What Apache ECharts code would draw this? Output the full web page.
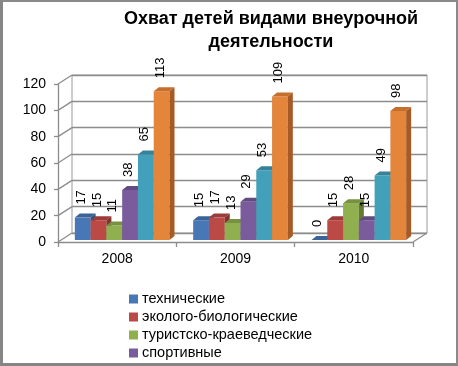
<!DOCTYPE html>
<html><head><meta charset="utf-8">
<script src="https://cdn.jsdelivr.net/npm/echarts@6/dist/echarts.min.js"></script>
<style>
html,body{margin:0;padding:0;background:#fff;}
#c{position:absolute;left:0;top:0;width:458px;height:366px;}
#frame{position:absolute;left:0;top:0;width:458px;height:366px;box-sizing:border-box;border-top:2px solid #8a8a8a;border-right:2px solid #8a8a8a;border-left:3px solid #858585;border-bottom:3px solid #858585;pointer-events:none;}
</style></head>
<body><div id="c"></div><div id="frame"></div>
<script>
const categories = ['2008', '2009', '2010'];
const yTicks = [0, 20, 40, 60, 80, 100, 120];
const seriesNames = ['технические', 'эколого-биологические', 'туристско-краеведческие', 'спортивные', 'художественно-эстетические', 'общекультурные'];
const technical = [17, 15, 0];
const ecoBio = [15, 17, 15];
const tourist = [11, 13, 28];
const sport = [38, 29, 15];
const artistic = [65, 53, 49];
const cultural = [113, 109, 98];
const legendNames = ['технические', 'эколого-биологические', 'туристско-краеведческие', 'спортивные'];

const values = [technical, ecoBio, tourist, sport, artistic, cultural];
const colors = [
  {f:'#4877b5', t:'#3a6399', s:'#30527f'},
  {f:'#bb4946', t:'#9c3b38', s:'#85322f'},
  {f:'#90b04f', t:'#76923f', s:'#627a34'},
  {f:'#7a5c9c', t:'#634a80', s:'#523d6b'},
  {f:'#42a0bb', t:'#34839a', s:'#2b6d80'},
  {f:'#e3853b', t:'#c66e2c', s:'#a65a24'}
];
const FONT = "'Liberation Sans', Arial, sans-serif";
const DX = 5, DY = -4;
const WX = 14, WY = -9;

const chart = echarts.init(document.getElementById('c'), null, {renderer:'canvas'});

function barRender(k) {
  return function (params, api) {
    const cat = api.value(0), v = api.value(1);
    const base = api.coord([cat, 0]);
    const top = api.coord([cat, v]);
    const bandW = api.size([1, 0])[0];
    const bw = bandW * 0.8 / 6;
    const x = base[0] + (k - 3) * bw;
    const yb = base[1], yt = top[1];
    const c = colors[k];
    const children = [
      {type:'rect', shape:{x:x, y:yt, width:bw, height:yb - yt}, style:{fill:c.f}},
      {type:'polygon', shape:{points:[[x, yt],[x + DX, yt + DY],[x + bw + DX, yt + DY],[x + bw, yt]]}, style:{fill:c.t}},
      {type:'polygon', shape:{points:[[x + bw, yt],[x + bw + DX, yt + DY],[x + bw + DX, yb + DY],[x + bw, yb]]}, style:{fill:c.s}},
      {type:'text', x: x + bw / 2 - 1.5, y: yt - 13, rotation: Math.PI / 2,
        style:{text:String(v), fill:'#000', fontSize:13, fontFamily:FONT, align:'left', verticalAlign:'middle'}}
    ];
    return {type:'group', children:children};
  };
}

const barSeries = values.map((arr, k) => ({
  name: seriesNames[k],
  type: 'custom',
  xAxisIndex: 2, yAxisIndex: 2,
  z: 5,
  itemStyle: {color: colors[k].f},
  renderItem: barRender(k),
  data: arr.map((v, i) => [i, v])
}));

const wallSeries = {
  type: 'custom',
  xAxisIndex: 0, yAxisIndex: 0,
  z: 1,
  silent: true,
  renderItem: function (params, api) {
    const v = api.value(0);
    const p = api.coord([0, v]);
    const bandW = api.size([1, 0])[0];
    const x0 = p[0] - bandW / 2;
    const children = [
      {type:'line', shape:{x1:x0, y1:p[1], x2:x0 + WX, y2:p[1] + WY}, style:{stroke:'#8c8c8c', lineWidth:1.3}}
    ];
    if (v === 0) {
      const q = api.coord([categories.length - 1, 0]);
      const x1 = q[0] + bandW / 2;
      children.push({type:'line', shape:{x1:x1, y1:q[1], x2:x1 + WX, y2:q[1] + WY}, style:{stroke:'#8c8c8c', lineWidth:1.3}});
    }
    return {type:'group', children:children};
  },
  data: yTicks.map(v => [v])
};

const axisBase = {min:0, max:120, interval:20};

chart.setOption({
  animation: false,
  backgroundColor: '#fff',
  title: {
    text: 'Охват детей видами внеурочной\nдеятельности',
    left: 266, top: 3, textAlign: 'center',
    textStyle: {fontSize:18, fontWeight:'bold', fontFamily:FONT, color:'#000', lineHeight:23}
  },
  legend: {
    data: legendNames,
    orient: 'vertical',
    left: 129, top: 291,
    padding: 0,
    itemWidth: 9, itemHeight: 9, itemGap: 2,
    icon: 'rect',
    textStyle: {fontSize:14.5, fontFamily:FONT, color:'#000', lineHeight:16, padding:[0,0,0,-1]}
  },
  grid: [
    {left:58, top:84, width:355, height:158},
    {left:72, top:75, width:355, height:158, show:true, borderColor:'#9a9a9a', borderWidth:1, backgroundColor:'transparent'},
    {left:63, top:82, width:355, height:158}
  ],
  xAxis: [
    {type:'category', gridIndex:0, data:categories, boundaryGap:true,
     axisLine:{show:true, lineStyle:{color:'#8c8c8c', width:1.3}},
     axisTick:{show:true, length:5, lineStyle:{color:'#8c8c8c', width:1.3}},
     axisLabel:{fontSize:14, fontFamily:FONT, color:'#000', margin:10}},
    {type:'category', gridIndex:1, data:categories, show:false},
    {type:'category', gridIndex:2, data:categories, show:false}
  ],
  yAxis: [
    Object.assign({type:'value', gridIndex:0,
     axisLine:{show:true, lineStyle:{color:'#8c8c8c', width:1.3}},
     axisTick:{show:true, length:4, lineStyle:{color:'#8c8c8c', width:1.3}},
     splitLine:{show:false},
     axisLabel:{fontSize:14, fontFamily:FONT, color:'#000', margin:12}}, axisBase),
    Object.assign({type:'value', gridIndex:1,
     axisLine:{show:false}, axisTick:{show:false}, axisLabel:{show:false},
     splitLine:{show:true, lineStyle:{color:'#8c8c8c', width:1.3}}}, axisBase),
    Object.assign({type:'value', gridIndex:2, show:false, splitLine:{show:false}}, axisBase)
  ],
  series: [wallSeries].concat(barSeries)
});
</script>
</body></html>
